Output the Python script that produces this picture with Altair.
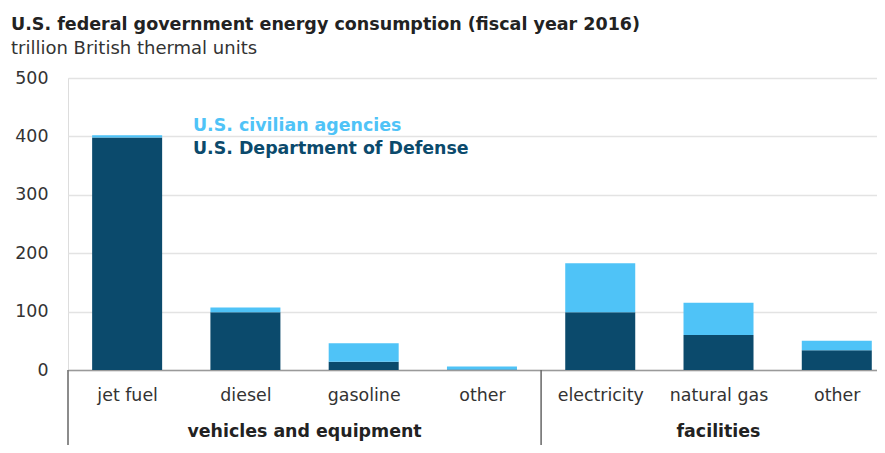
import json
import altair as alt
import pandas as pd

# ---- data ----
categories = ["jet fuel", "diesel", "gasoline", "other", "electricity", "natural gas", "other"]
groups = ["vehicles and equipment"] * 4 + ["facilities"] * 3
dod = [398, 99, 14, 1, 99, 60, 34]
civilian = [4, 8, 32, 5, 84, 55, 16]
series_names = ["U.S. civilian agencies", "U.S. Department of Defense"]
y_ticks = [0, 100, 200, 300, 400, 500]

FONT = "DejaVu Sans"
DARK = "#0b4a6c"
LIGHT = "#4fc3f7"
W, H = 809, 292
FS = 17.4

rows = []
for i, (c, g, d, v) in enumerate(zip(categories, groups, dod, civilian)):
    rows.append(dict(pos=i, category=c, group=g, series=series_names[1], value=d, order=0))
    rows.append(dict(pos=i, category=c, group=g, series=series_names[0], value=v, order=1))
df = pd.DataFrame(rows)

g = pd.DataFrame({"pos": range(len(groups)), "group": groups})
gc = g.groupby("group", sort=False)["pos"].agg(["min", "max"]).reset_index()
gc["center"] = (gc["min"] + gc["max"]) / 2
gc["left"] = gc["min"] - 0.5

legend_df = pd.DataFrame({"series": series_names})

x_scale = alt.Scale(domain=[-0.5, len(categories) - 1 + 0.34], nice=False, zero=False, padding=0)
y_scale = alt.Scale(domain=[0, 500], nice=False)
color_scale = alt.Scale(domain=series_names, range=[LIGHT, DARK])

label_expr = json.dumps(categories) + "[datum.value]"

bars = alt.Chart(df).mark_bar(size=70).encode(
    x=alt.X("pos:Q", scale=x_scale,
            axis=alt.Axis(values=list(range(len(categories))), labelExpr=label_expr,
                          title=None, grid=False, ticks=False, tickSize=0,
                          domain=True, domainColor="#9a9a9a", domainWidth=1.5,
                          labelFont=FONT, labelFontSize=FS, labelColor="#333333",
                          labelBaseline="middle", labelPadding=25, labelFlush=False)),
    y=alt.Y("value:Q", stack="zero", scale=y_scale,
            axis=alt.Axis(values=y_ticks, title=None, domain=False, ticks=False,
                          grid=True, gridColor="#e3e3e3", gridWidth=1.5,
                          labelFont=FONT, labelFontSize=FS, labelColor="#333333",
                          labelPadding=20)),
    color=alt.Color("series:N", scale=color_scale, legend=None),
    order=alt.Order("order:Q"),
)

group_labels = alt.Chart(gc).mark_text(
    font=FONT, fontSize=FS, fontWeight="bold", color="#222222", baseline="middle"
).encode(
    x=alt.X("center:Q", scale=x_scale),
    y=alt.value(H + 62),
    text="group:N",
)

box_lines = alt.Chart(gc).mark_rule(color="#666666", strokeWidth=1.5).encode(
    x=alt.X("left:Q", scale=x_scale),
    y=alt.value(H),
    y2=alt.value(H + 120),
)

leg1 = alt.Chart(legend_df).transform_filter(
    alt.datum.series == series_names[0]
).mark_text(font=FONT, fontSize=FS, fontWeight="bold", align="left", baseline="middle").encode(
    x=alt.value(125), y=alt.value(48), text="series:N",
    color=alt.Color("series:N", scale=color_scale, legend=None),
)
leg2 = alt.Chart(legend_df).transform_filter(
    alt.datum.series == series_names[1]
).mark_text(font=FONT, fontSize=FS, fontWeight="bold", align="left", baseline="middle").encode(
    x=alt.value(125), y=alt.value(71), text="series:N",
    color=alt.Color("series:N", scale=color_scale, legend=None),
)

chart = alt.layer(bars, box_lines, group_labels, leg1, leg2).properties(
    width=W, height=H,
    title=alt.TitleParams(
        text="U.S. federal government energy consumption (fiscal year 2016)",
        subtitle="trillion British thermal units",
        anchor="start", frame="group", dx=-57, offset=11,
        font=FONT, fontSize=17.5, fontWeight="bold", color="#222222",
        subtitleFont=FONT, subtitleFontSize=18, subtitleColor="#333333",
        subtitlePadding=7,
    ),
    autosize=alt.AutoSizeParams(type="none"),
    padding={"left": 60, "top": 70, "right": 0, "bottom": 75},
).configure_view(stroke=None).configure(background="white")

chart.save("out.html", embed_options={"renderer": "svg", "actions": False})
